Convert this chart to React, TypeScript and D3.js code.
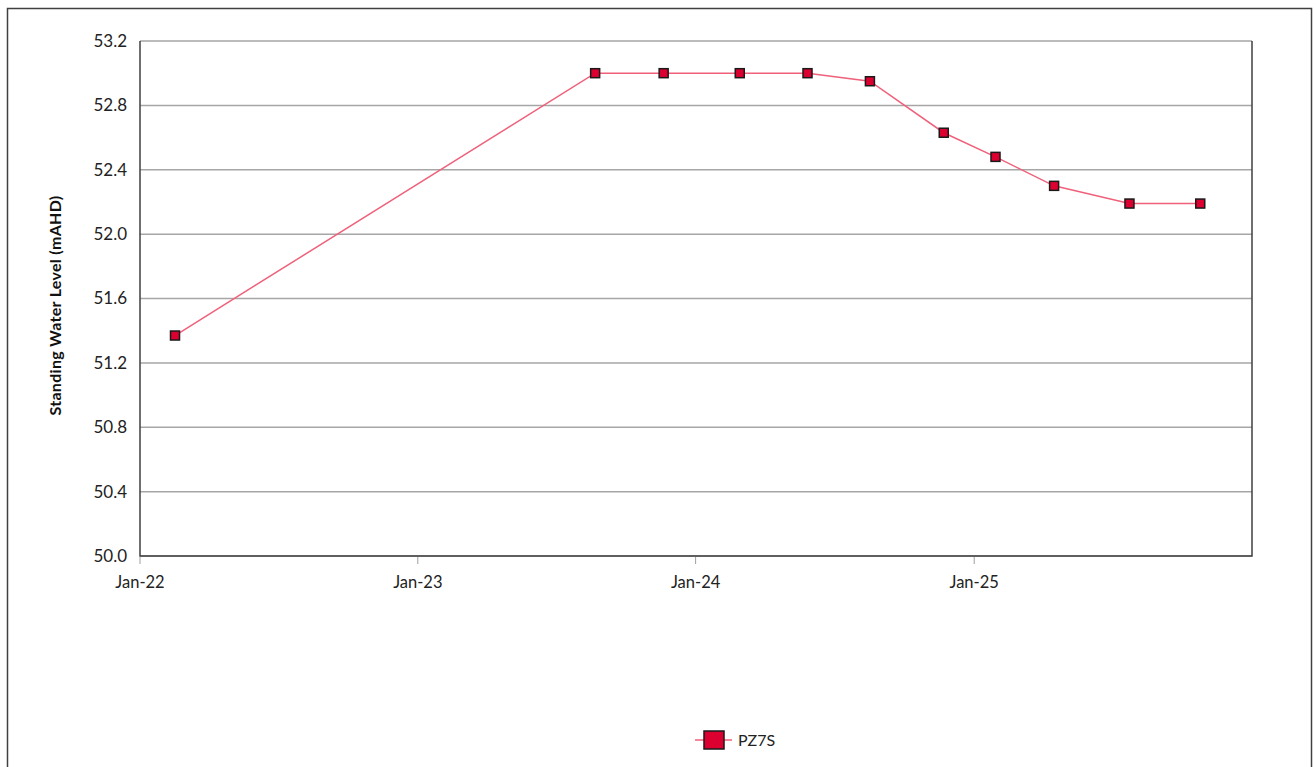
import { useEffect, useRef } from "react"
import * as d3 from "d3"

// Sample dates and standing water levels for PZ7S
const sampleDates = [
  "2022-02-16",
  "2023-08-22",
  "2023-11-20",
  "2024-02-28",
  "2024-05-27",
  "2024-08-17",
  "2024-11-22",
  "2025-01-29",
  "2025-04-16",
  "2025-07-24",
  "2025-10-25",
]
const waterLevels = [51.37, 53.0, 53.0, 53.0, 53.0, 52.95, 52.63, 52.48, 52.3, 52.19, 52.19]
const seriesName = "PZ7S"
const yTicks = [50.0, 50.4, 50.8, 51.2, 51.6, 52.0, 52.4, 52.8, 53.2]
const xTicks = ["2022-01-01", "2023-01-01", "2024-01-01", "2025-01-01"]

const FONT = "Lato, 'Open Sans', sans-serif"

export default function App() {
  const svgRef = useRef<SVGSVGElement>(null)

  useEffect(() => {
    if (!svgRef.current) return
    document.body.style.margin = "0"

    const svg = d3.select(svgRef.current)
    svg.selectAll("*").remove()

    const width = 1316
    const height = 767
    const margin = { left: 140, top: 41, right: 64, bottom: 211 }
    const innerW = width - margin.left - margin.right
    const innerH = height - margin.top - margin.bottom

    const parse = d3.timeParse("%Y-%m-%d")
    const data = sampleDates.map((d, i) => ({ date: parse(d) as Date, value: waterLevels[i] }))

    const x = d3
      .scaleTime()
      .domain([parse("2022-01-01") as Date, parse("2026-01-01") as Date])
      .range([margin.left, margin.left + innerW])
    const y = d3.scaleLinear().domain([50, 53.2]).range([margin.top + innerH, margin.top])

    // Outer frame
    svg
      .append("rect")
      .attr("x", 7.5)
      .attr("y", 8.5)
      .attr("width", 1304)
      .attr("height", 780)
      .attr("fill", "white")
      .attr("stroke", "#404040")
      .attr("stroke-width", 1.5)

    // Horizontal gridlines
    svg
      .append("g")
      .selectAll("line")
      .data(yTicks)
      .enter()
      .append("line")
      .attr("x1", margin.left)
      .attr("x2", margin.left + innerW)
      .attr("y1", (d) => y(d))
      .attr("y2", (d) => y(d))
      .attr("stroke", "#a6a6a6")
      .attr("stroke-width", 1.5)

    // Axis lines (left, bottom, right)
    const bottomY = y(50)
    svg
      .append("path")
      .attr("d", `M${margin.left},${margin.top}V${bottomY}H${margin.left + innerW}V${margin.top}`)
      .attr("fill", "none")
      .attr("stroke", "#404040")
      .attr("stroke-width", 1.5)

    // Y tick labels
    svg
      .append("g")
      .selectAll("text")
      .data(yTicks)
      .enter()
      .append("text")
      .attr("x", margin.left - 13)
      .attr("y", (d) => y(d))
      .attr("dy", "0.35em")
      .attr("text-anchor", "end")
      .style("font-family", FONT)
      .style("font-size", "17px")
      .style("fill", "#222")
      .text((d) => d.toFixed(1))

    // X ticks and labels
    const xg = svg.append("g")
    xTicks.forEach((t) => {
      const xd = x(parse(t) as Date)
      xg.append("line")
        .attr("x1", xd)
        .attr("x2", xd)
        .attr("y1", bottomY + 1)
        .attr("y2", bottomY + 8)
        .attr("stroke", "#a0a0a0")
        .attr("stroke-width", 1)
      xg.append("text")
        .attr("x", xd)
        .attr("y", bottomY + 32)
        .attr("text-anchor", "middle")
        .style("font-family", FONT)
        .style("font-size", "16.5px")
        .style("fill", "#222")
        .text(d3.timeFormat("%b-%y")(parse(t) as Date))
    })

    // Y axis title
    svg
      .append("text")
      .attr("transform", `translate(61, ${margin.top + innerH / 2 + 7}) rotate(-90)`)
      .attr("text-anchor", "middle")
      .style("font-family", FONT)
      .style("font-size", "16px")
      .style("font-weight", "bold")
      .style("letter-spacing", "0.3px")
      .style("fill", "#111")
      .text("Standing Water Level (mAHD)")

    // Series line
    const line = d3
      .line<{ date: Date; value: number }>()
      .x((d) => x(d.date))
      .y((d) => y(d.value))
    svg
      .append("path")
      .datum(data)
      .attr("d", line)
      .attr("fill", "none")
      .attr("stroke", "#f0607a")
      .attr("stroke-width", 1.5)

    // Markers
    const ms = 9
    svg
      .append("g")
      .selectAll("rect")
      .data(data)
      .enter()
      .append("rect")
      .attr("x", (d) => x(d.date) - ms / 2)
      .attr("y", (d) => y(d.value) - ms / 2)
      .attr("width", ms)
      .attr("height", ms)
      .attr("fill", "#dc0030")
      .attr("stroke", "#1a1a1a")
      .attr("stroke-width", 1.5)

    // Legend
    const legend = svg.append("g").attr("transform", "translate(695, 740)")
    legend
      .append("line")
      .attr("x1", 0)
      .attr("x2", 37)
      .attr("stroke", "#f0607a")
      .attr("stroke-width", 1.5)
    legend
      .append("rect")
      .attr("x", 9)
      .attr("y", -9)
      .attr("width", 20)
      .attr("height", 18)
      .attr("fill", "#dc0030")
      .attr("stroke", "#1a1a1a")
      .attr("stroke-width", 1.5)
    legend
      .append("text")
      .attr("x", 43)
      .attr("dy", "0.35em")
      .style("font-family", FONT)
      .style("font-size", "16px")
      .style("fill", "#222")
      .text(seriesName)
  }, [])

  return (
    <svg
      ref={svgRef}
      width={1316}
      height={767}
      style={{ position: "absolute", left: 0, top: 0, display: "block" }}
    ></svg>
  )
}
